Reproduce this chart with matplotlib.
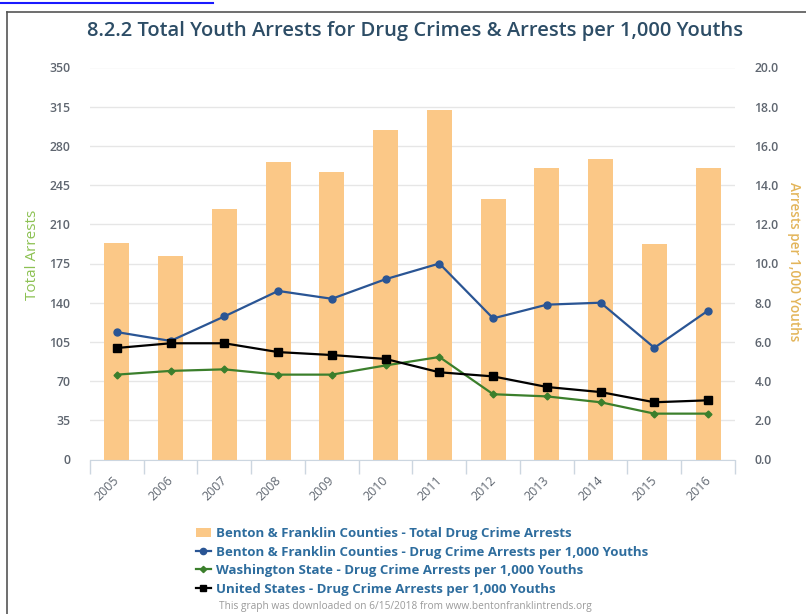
import matplotlib
matplotlib.use("Agg")
import matplotlib.pyplot as plt
import matplotlib.transforms as mtransforms
from matplotlib.lines import Line2D
from matplotlib.patches import Patch
import numpy as np

years = ["2005", "2006", "2007", "2008", "2009", "2010",
         "2011", "2012", "2013", "2014", "2015", "2016"]
total_arrests = [193, 182, 224, 266, 257, 294, 312, 233, 260, 268, 192, 260]
bf_rate = [6.5, 6.05, 7.3, 8.6, 8.2, 9.2, 10.0, 7.2, 7.9, 8.0, 5.7, 7.6]
wa_rate = [4.33, 4.52, 4.6, 4.33, 4.33, 4.8, 5.23, 3.33, 3.22, 2.92, 2.34, 2.34]
us_rate = [5.69, 5.93, 5.93, 5.48, 5.33, 5.13, 4.45, 4.24, 3.7, 3.44, 2.92, 3.02]

left_ticks = [0, 35, 70, 105, 140, 175, 210, 245, 280, 315, 350]
right_ticks = [0, 2, 4, 6, 8, 10, 12, 14, 16, 18, 20]

title = "8.2.2 Total Youth Arrests for Drug Crimes & Arrests per 1,000 Youths"
legend_labels = [
    "Benton & Franklin Counties - Total Drug Crime Arrests",
    "Benton & Franklin Counties - Drug Crime Arrests per 1,000 Youths",
    "Washington State - Drug Crime Arrests per 1,000 Youths",
    "United States - Drug Crime Arrests per 1,000 Youths",
]
footer = "This graph was downloaded on 6/15/2018 from www.bentonfranklintrends.org"

FONT = "Open Sans"
BAR_C = "#fbc887"
BLUE = "#2a5594"
GREEN = "#3b7f2c"
BLACK = "#000000"
TICK_C = "#5f6670"

W, H = 806, 614
fig = plt.figure(figsize=(W / 100, H / 100), dpi=100)
ax = fig.add_axes([90 / W, 1 - 459.5 / H, (735 - 90) / W, (459.5 - 67.5) / H])
ax2 = ax.twinx()

x = np.arange(len(years))
ax.bar(x, total_arrests, width=0.465, color=BAR_C, zorder=2)
ax.set_ylim(0, 350)
ax.set_xlim(-0.5, len(years) - 0.5)
ax.set_yticks(left_ticks)
ax.set_yticklabels([str(v) for v in left_ticks])
ax.grid(axis="y", color="#e6e6e6", linewidth=1, zorder=0)
ax.set_axisbelow(True)

ax2.set_ylim(0, 20)
ax2.set_yticks(right_ticks)
ax2.set_yticklabels([f"{v:.1f}" for v in right_ticks])
ax2.plot(x, bf_rate, color=BLUE, lw=1.6, marker="o", ms=5, zorder=5)
ax2.plot(x, wa_rate, color=GREEN, lw=1.6, marker="D", ms=3.5, zorder=4)
ax2.plot(x, us_rate, color=BLACK, lw=1.6, marker="s", ms=5.5, zorder=6)

for a in (ax, ax2):
    for s in a.spines.values():
        s.set_visible(False)
    a.tick_params(axis="y", length=0, labelsize=8.8, labelcolor=TICK_C)
ax.spines["bottom"].set_visible(True)
ax.spines["bottom"].set_color("#ccd6e0")
ax.tick_params(axis="y", pad=14)
ax2.tick_params(axis="y", pad=14)
for lab in ax.get_yticklabels() + ax2.get_yticklabels():
    lab.set_fontfamily(FONT)
    lab.set_fontweight("semibold")

ax.set_xticks(x)
ax.set_xticklabels(years, rotation=45, ha="right", rotation_mode="anchor",
                   fontsize=9, color=TICK_C, family=FONT)
ax.tick_params(axis="x", which="major", length=0, pad=10)
shift = mtransforms.ScaledTranslation(-4 / 100, 0, fig.dpi_scale_trans)
for lab in ax.get_xticklabels():
    lab.set_transform(lab.get_transform() + shift)
ax.set_xticks(np.arange(-0.5, len(years), 1.0), minor=True)
ax.tick_params(axis="x", which="minor", length=10, color="#ccd6e0", width=1)

fig.text(32 / W, 1 - 255 / H, "Total Arrests", rotation=90, ha="center",
         va="center", color="#8cc152", fontsize=11, family=FONT)
fig.text(794 / W, 1 - 262 / H, "Arrests per 1,000 Youths", rotation=-90,
         ha="center", va="center", color="#e3b55a", fontsize=9.8, family=FONT,
         fontweight="semibold")

fig.text(415 / W, 1 - 31 / H, title, ha="center", va="center", fontsize=14.5,
         color="#2d4d66", family=FONT, fontweight="semibold")

handles = [
    Patch(facecolor=BAR_C, edgecolor="none"),
    Line2D([], [], color=BLUE, lw=1.6, marker="o", ms=4.5),
    Line2D([], [], color=GREEN, lw=1.6, marker="D", ms=3.2),
    Line2D([], [], color=BLACK, lw=1.6, marker="s", ms=5),
]
leg = fig.legend(handles, legend_labels, loc="upper left",
                 bbox_to_anchor=(196 / W, 1 - 527 / H), frameon=False,
                 handlelength=1.1, handletextpad=0.45, labelspacing=0.42,
                 prop={"family": FONT, "size": 9.5, "weight": "bold"},
                 labelcolor="#2e6d9e", borderaxespad=0, borderpad=0)

fig.text(405 / W, 1 - 606 / H, footer, ha="center", va="center", fontsize=7.3,
         color="#9a9a9a", family=FONT)

# page frame and link underline
fig.add_artist(Line2D([7 / W, 7 / W], [0, 1 - 12 / H], color="#555555", lw=1.2,
                      transform=fig.transFigure))
fig.add_artist(Line2D([7 / W, 1], [1 - 12 / H, 1 - 12 / H], color="#555555", lw=1.2,
                      transform=fig.transFigure))
fig.add_artist(Line2D([0, 213 / W], [1 - 3 / H, 1 - 3 / H], color="#1a1aff", lw=1.5,
                      transform=fig.transFigure))

fig.savefig("out.png", dpi=100)
